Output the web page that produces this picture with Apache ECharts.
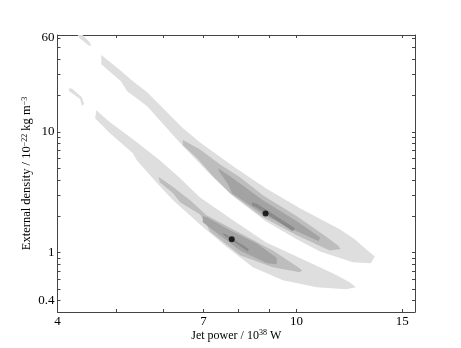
<!DOCTYPE html>
<html>
<head>
<meta charset="utf-8">
<script src="https://cdn.jsdelivr.net/npm/echarts@6/dist/echarts.min.js"></script>
<style>
  html, body { margin: 0; padding: 0; background: #fff; }
  #chart { width: 461px; height: 348px; }
</style>
</head>
<body>
<div id="chart"></div>
<script>
// axis ticks / labels (jet power in 1e38 W, density in 1e-22 kg m^-3)
const xTicks = [4, 5, 6, 7, 8, 9, 10, 15];
const xLabels = [4, 7, 10, 15];
const yTicks = [0.4, 0.5, 0.6, 0.7, 0.8, 0.9, 1, 2, 3, 4, 5, 6, 7, 8, 9, 10, 20, 30, 40, 50, 60];
const yLabels = [0.4, 1, 10, 60];

// upper banana: contour levels, outer -> inner
const upperOuter = [
  [4.73, 43.3], [5.08, 32.5], [5.34, 26.3], [5.64, 21.3], [6.04, 15.1], [6.45, 10.9],
  [6.90, 8.22], [7.84, 5.20], [8.89, 3.41], [10.13, 2.33], [11.80, 1.56], [12.50, 1.29],
  [13.04, 1.07], [13.50, 0.93], [13.29, 0.815], [12.41, 0.83], [10.94, 1.02], [10.01, 1.29],
  [8.89, 1.82], [7.84, 2.93], [7.26, 4.21], [6.45, 7.76], [5.64, 16.3], [5.22, 21.8],
  [5.10, 26.3], [4.73, 36.4]
];
const upperOuterTip = [
  [4.31, 66], [4.37, 66], [4.53, 54.9], [4.55, 51.4], [4.50, 52.3], [4.34, 60.4]
];
const upperMid = [
  [6.46, 8.62], [6.90, 7.19], [7.45, 5.40], [8.05, 4.21], [8.79, 2.99], [10.01, 2.00],
  [11.06, 1.42], [11.71, 1.15], [11.85, 1.07], [11.36, 1.04], [10.01, 1.39], [8.79, 1.96],
  [7.75, 3.10], [7.26, 4.29], [6.83, 6.05], [6.47, 7.76]
];
const upperInner = [
  [7.40, 5.00], [7.75, 4.29], [8.79, 2.71], [10.01, 1.82], [10.94, 1.34], [10.89, 1.24],
  [10.01, 1.50], [8.79, 2.08], [7.81, 3.10], [7.69, 3.68], [7.43, 4.72]
];
const upperCore = [
  [8.43, 2.61], [8.62, 2.52], [9.94, 1.59], [9.86, 1.50], [8.62, 2.33], [8.43, 2.47]
];

// lower banana
const lowerOuter = [
  [4.64, 15.1], [4.89, 12.0], [5.34, 8.70], [5.92, 5.83], [6.40, 4.13], [6.90, 2.87],
  [7.84, 1.85], [8.89, 1.22], [10.13, 0.90], [11.49, 0.674], [12.26, 0.567], [12.55, 0.516],
  [12.08, 0.496], [10.81, 0.516], [9.49, 0.589], [8.46, 0.755], [7.66, 1.11], [6.90, 1.72],
  [6.23, 2.71], [5.86, 3.76], [5.42, 5.83], [5.34, 6.66], [4.89, 9.76], [4.62, 13.0]
];
const lowerOuterTip = [
  [4.18, 23.0], [4.23, 22.8], [4.39, 19.4], [4.43, 17.0], [4.39, 16.5], [4.36, 18.7], [4.18, 21.8]
];
const lowerMid = [
  [5.89, 4.24], [6.23, 3.50], [6.65, 2.71], [7.08, 2.04], [8.05, 1.45], [9.13, 1.04],
  [10.01, 0.77], [10.21, 0.713], [10.13, 0.687], [9.13, 0.755], [8.05, 0.95], [7.17, 1.50],
  [7.08, 1.72], [6.90, 2.08], [6.40, 2.61], [6.23, 3.10], [5.92, 3.83]
];
const lowerInner = [
  [6.98, 2.00], [7.09, 1.96], [7.75, 1.53], [8.59, 1.19], [9.27, 0.90], [9.27, 0.80],
  [8.93, 0.815], [8.05, 1.04], [7.37, 1.45], [6.98, 1.78]
];
const lowerCore = [
  [7.54, 1.45], [7.63, 1.42], [8.33, 1.07], [8.30, 1.02], [7.57, 1.39]
];

// best-fit points
const bestFit = [[8.88, 2.11], [7.80, 1.29]];

const GREY1 = '#dedede';
const GREY2 = '#bdbdbd';
const GREY3 = '#a3a3a3';
const GREY4 = '#8a8a8a';
const FONT = 'Liberation Serif';

const chart = echarts.init(document.getElementById('chart'));

function region(points, color) {
  return {
    type: 'custom',
    coordinateSystem: 'cartesian2d',
    silent: true,
    clip: true,
    data: points,
    renderItem: function (params, api) {
      if (params.dataIndex !== 0) return;
      const pts = points.map(p => api.coord(p));
      return { type: 'polygon', shape: { points: pts }, style: { fill: color, stroke: null } };
    }
  };
}

const tickStyle = { show: true, inside: true, length: 3, lineStyle: { color: '#444', width: 1 } };
const lineStyle = { show: true, onZero: false, lineStyle: { color: '#444', width: 1 } };
const supStyle = { fontSize: 8, verticalAlign: 'top', fontFamily: FONT, color: '#000', padding: [0, 0, 5, 0] };

const option = {
  backgroundColor: '#fff',
  animation: false,
  grid: { left: 57.5, right: 46, top: 35, bottom: 36, outerBoundsMode: 'none' },
  xAxis: [
    {
      type: 'log', position: 'bottom', min: 3.999, max: 15.75,
      axisLine: lineStyle,
      axisTick: Object.assign({ customValues: xTicks }, tickStyle),
      axisLabel: {
        customValues: xLabels, margin: 3, color: '#000', fontFamily: FONT, fontSize: 13,
        formatter: v => String(v)
      },
      splitLine: { show: false },
      name: 'Jet power / 10{sup|38} W',
      nameLocation: 'middle', nameGap: 17, nameMoveOverlap: false,
      nameTextStyle: { color: '#000', fontFamily: FONT, fontSize: 12, rich: { sup: supStyle } }
    },
    {
      type: 'log', position: 'top', min: 3.999, max: 15.75,
      axisLine: lineStyle,
      axisTick: Object.assign({ customValues: xTicks }, tickStyle),
      axisLabel: { show: false },
      splitLine: { show: false }
    }
  ],
  yAxis: [
    {
      type: 'log', position: 'left', min: 0.322, max: 63.5,
      axisLine: lineStyle,
      axisTick: Object.assign({ customValues: yTicks }, tickStyle),
      axisLabel: {
        customValues: yLabels, margin: 3, color: '#000', fontFamily: FONT, fontSize: 13,
        formatter: v => String(v)
      },
      splitLine: { show: false },
      name: 'External density / 10{sup|\u221222} kg m{sup|\u22123}',
      nameLocation: 'middle', nameGap: 24, nameRotate: 90, nameMoveOverlap: false,
      nameTextStyle: { color: '#000', fontFamily: FONT, fontSize: 12.5, rich: { sup: supStyle } }
    },
    {
      type: 'log', position: 'right', min: 0.322, max: 63.5,
      axisLine: lineStyle,
      axisTick: Object.assign({ customValues: yTicks }, tickStyle),
      axisLabel: { show: false },
      splitLine: { show: false }
    }
  ],
  series: [
    region(upperOuter, GREY1),
    region(upperOuterTip, GREY1),
    region(lowerOuter, GREY1),
    region(lowerOuterTip, GREY1),
    region(upperMid, GREY2),
    region(lowerMid, GREY2),
    region(upperInner, GREY3),
    region(lowerInner, GREY3),
    region(upperCore, GREY4),
    region(lowerCore, GREY4),
    {
      type: 'scatter',
      data: bestFit,
      symbol: 'circle',
      symbolSize: 6,
      itemStyle: { color: '#000' },
      silent: true
    }
  ]
};

chart.setOption(option);
</script>
</body>
</html>
